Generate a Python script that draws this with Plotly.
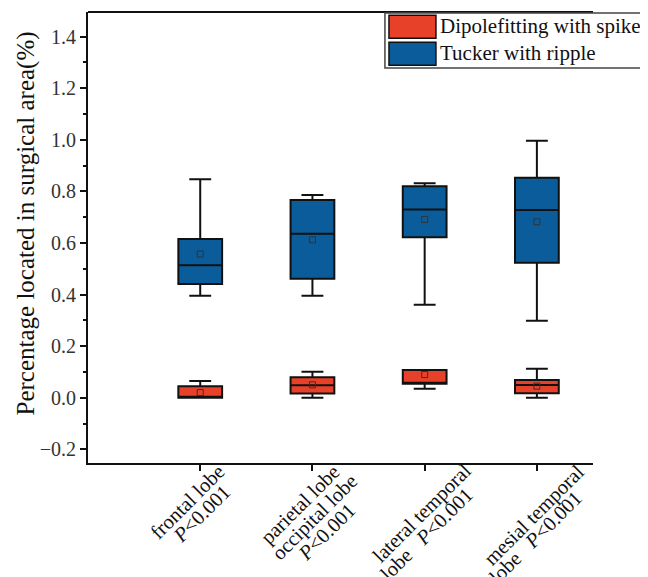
import plotly.graph_objects as go

positions = [0, 1, 2, 3]
# x tick labels, one list of lines per category
category_lines = [
    ["frontal lobe", "<i>P</i>&lt;0.001"],
    ["parietal lobe", "occipital lobe", "<i>P</i>&lt;0.001"],
    ["lateral temporal", "lobe\u00a0\u00a0\u00a0<i>P</i>&lt;0.001"],
    ["mesial temporal", "lobe\u00a0\u00a0\u00a0<i>P</i>&lt;0.001"],
]

# Dipolefitting with spike
dip_low = [0.0, 0.0, 0.035, 0.0]
dip_q1 = [0.0, 0.016, 0.054, 0.017]
dip_med = [0.0, 0.048, 0.058, 0.049]
dip_q3 = [0.044, 0.079, 0.107, 0.069]
dip_up = [0.065, 0.101, 0.107, 0.112]
dip_mean = [0.02, 0.05, 0.09, 0.045]

# Tucker with ripple
tuc_low = [0.395, 0.395, 0.36, 0.298]
tuc_q1 = [0.441, 0.461, 0.622, 0.523]
tuc_med = [0.513, 0.636, 0.73, 0.728]
tuc_q3 = [0.615, 0.766, 0.82, 0.853]
tuc_up = [0.847, 0.786, 0.831, 0.996]
tuc_mean = [0.557, 0.612, 0.691, 0.682]

ytick_vals = [-0.2, 0.0, 0.2, 0.4, 0.6, 0.8, 1.0, 1.2, 1.4]
ytick_text = ["\u22120.2", "0.0", "0.2", "0.4", "0.6", "0.8", "1.0", "1.2", "1.4"]

RED = "#E8412A"
BLUE = "#0B5C9A"
SERIF = "Liberation Serif"

fig = go.Figure()
for name, low, q1, med, q3, up, col in [
    ("Dipolefitting with spike", dip_low, dip_q1, dip_med, dip_q3, dip_up, RED),
    ("Tucker with ripple", tuc_low, tuc_q1, tuc_med, tuc_q3, tuc_up, BLUE),
]:
    fig.add_trace(go.Box(
        x=positions, lowerfence=low, q1=q1, median=med, q3=q3, upperfence=up,
        name=name, fillcolor=col, line=dict(color="#111111", width=2),
        width=0.39, whiskerwidth=0.5, showlegend=False, boxpoints=False,
    ))

for means in [dip_mean, tuc_mean]:
    fig.add_trace(go.Scatter(
        x=positions, y=means, mode="markers", showlegend=False,
        marker=dict(symbol="square-open", size=6, color="#333333", line=dict(width=1)),
    ))

# frame top line
fig.add_shape(type="line", xref="paper", yref="paper", x0=0, x1=1, y0=1, y1=1,
              line=dict(color="#111111", width=2))
# custom legend
fig.add_shape(type="rect", xref="paper", yref="paper", x0=0.588, x1=1.107, y0=0.876, y1=0.998,
              line=dict(color="#444444", width=1.5), fillcolor="white")
fig.add_shape(type="rect", xref="paper", yref="paper", x0=0.596, x1=0.689, y0=0.942, y1=0.993,
              line=dict(color="#111111", width=1.5), fillcolor=RED)
fig.add_shape(type="rect", xref="paper", yref="paper", x0=0.596, x1=0.689, y0=0.882, y1=0.933,
              line=dict(color="#111111", width=1.5), fillcolor=BLUE)
fig.add_annotation(xref="paper", yref="paper", x=0.693, y=0.968, xanchor="left", yanchor="middle",
                   text="Dipolefitting with spike", showarrow=False,
                   font=dict(family=SERIF, size=21, color="#111111"))
fig.add_annotation(xref="paper", yref="paper", x=0.693, y=0.908, xanchor="left", yanchor="middle",
                   text="Tucker with ripple", showarrow=False,
                   font=dict(family=SERIF, size=21, color="#111111"))

# y-axis title
fig.add_annotation(xref="paper", yref="paper", x=-0.1228, y=0.531, xanchor="center", yanchor="middle",
                   text="Percentage located in surgical area(%)", textangle=-90, showarrow=False,
                   font=dict(family=SERIF, size=25, color="#111111"))

# rotated x labels: per-line pixel offsets (dx right, dy down) from each tick
line_offsets = [
    [(-13, 39), (1, 51)],
    [(-12, 41), (2, 54), (14, 69)],
    [(-3, 50), (2, 71)],
    [(-3, 52), (-1, 74)],
]
for pos, lines, offs in zip(positions, category_lines, line_offsets):
    for txt, (dx, dy) in zip(lines, offs):
        fig.add_annotation(xref="x", yref="paper", x=pos, y=0, xanchor="center", yanchor="middle",
                           xshift=dx, yshift=-dy, text=txt, textangle=-45, showarrow=False,
                           font=dict(family=SERIF, size=20.5, color="#111111"))

fig.update_layout(
    width=640, height=569,
    margin=dict(l=80, r=55, t=4, b=114),
    plot_bgcolor="white", paper_bgcolor="white",
    boxmode="overlay",
    font=dict(family=SERIF, color="#222222"),
    xaxis=dict(range=[-1, 3.5], tickvals=positions, showticklabels=False, automargin=False,
               ticks="outside", ticklen=6, tickwidth=1.5, tickcolor="#111111",
               showline=True, linecolor="#111111", linewidth=2, showgrid=False, zeroline=False),
    yaxis=dict(range=[-0.253, 1.495], tickvals=ytick_vals, ticktext=ytick_text, automargin=False,
               ticks="outside", ticklen=6, tickwidth=1.5, tickcolor="#111111",
               minor=dict(tickvals=[-0.1, 0.1, 0.3, 0.5, 0.7, 0.9, 1.1, 1.3],
                          ticks="outside", ticklen=3, tickcolor="#111111", tickwidth=1.5),
               showline=True, linecolor="#111111", linewidth=2, showgrid=False, zeroline=False,
               tickfont=dict(family=SERIF, size=20, color="#333333")),
)

fig.write_html("out.html")
